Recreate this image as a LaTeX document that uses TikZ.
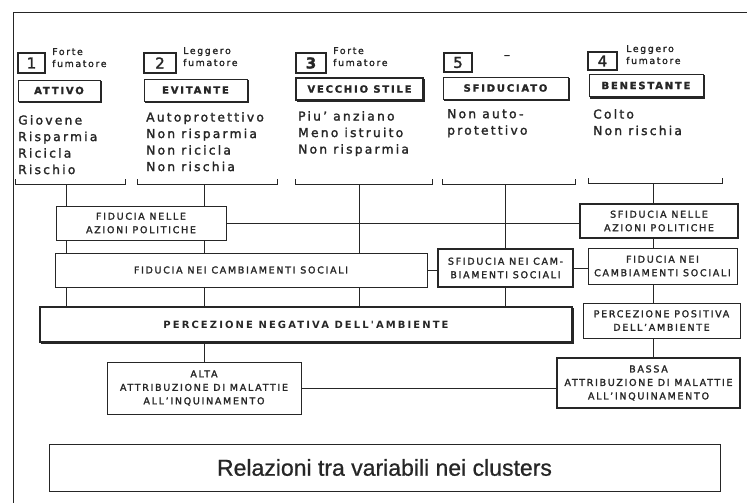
\documentclass[tikz,border=0pt]{standalone}
\usepackage{fontspec}
\setmainfont{DejaVu Sans}[LetterSpace=18, FakeBold=1.8]
\newfontfamily\pnfont{DejaVu Sans}[LetterSpace=21]
\newfontfamily\titlefont{Liberation Sans}[FakeBold=0.8]
\usetikzlibrary{backgrounds}
\definecolor{ink}{HTML}{262626}
\begin{document}
\begin{tikzpicture}[x=1pt,y=-1pt,
  every node/.style={text=ink, inner sep=0pt},
  nbox/.style={draw=ink, line width=1.2pt, fill=white, font=\fontsize{15}{15}\selectfont},
  small/.style={align=left, font=\fontsize{9.3}{12}\selectfont},
  lbox/.style={draw=ink, line width=0.9pt, fill=white, font=\bfseries\fontsize{10}{12}\selectfont,
    preaction={draw=ink, line width=1.6pt, transform canvas={xshift=1.6pt,yshift=-1.6pt}}},
  desc/.style={align=left, font=\fontsize{12.3}{16.5}\selectfont},
  mbox/.style={draw=ink, line width=1pt, fill=white, align=center, font=\fontsize{9.5}{13.5}\selectfont},
  conn/.style={draw=ink, line width=0.9pt},
  brk/.style={draw=ink, line width=0.9pt}
]
\useasboundingbox (0,0) rectangle (747,503);
% frame
\draw[ink, line width=0.9pt] (747,12) -- (13,12) -- (13,503);

% number boxes
\node[nbox, minimum width=27pt, minimum height=20pt] (n1) at (31.5,63) {1};
\node[nbox, minimum width=32pt, minimum height=20pt] (n2) at (160,63) {2};
\node[nbox, line width=2.2pt, minimum width=30pt, minimum height=20pt, font=\bfseries\fontsize{15}{15}\selectfont] (n3) at (311,63) {3};
\node[nbox, minimum width=28pt, minimum height=19pt] (n5) at (458,62.5) {5};
\node[nbox, minimum width=29pt, minimum height=18pt] (n4) at (602.5,61) {4};

% small labels
\node[small, anchor=north west] (s1) at (52,48) {Forte\\fumatore};
\node[small, anchor=north west] (s2) at (183,47) {Leggero\\fumatore};
\node[small, anchor=north west] (s3) at (333,47) {Forte\\fumatore};
\node[small, font=\fontsize{12}{12}\selectfont] (s5) at (507,57) {–};
\node[small, anchor=north west] (s4) at (626,45) {Leggero\\fumatore};

% label boxes
\node[lbox, minimum width=82pt, minimum height=21pt] (l1) at (59,90.5) {ATTIVO};
\node[lbox, minimum width=103pt, minimum height=22pt] (l2) at (195.5,90) {EVITANTE};
\node[lbox, minimum width=127pt, minimum height=22pt, line width=1.4pt] (l3) at (359.5,89) {VECCHIO STILE};
\node[lbox, minimum width=125pt, minimum height=22pt] (l5) at (505.5,88) {SFIDUCIATO};
\node[lbox, minimum width=114pt, minimum height=22pt] (l4) at (646,85.5) {BENESTANTE};

% descriptions
\node[desc, anchor=north west] (d1) at (18,115) {Giovene\\Risparmia\\Ricicla\\Rischio};
\node[desc, anchor=north west] (d2) at (146,112) {Autoprotettivo\\Non risparmia\\Non ricicla\\Non rischia};
\node[desc, anchor=north west] (d3) at (298,111) {Piu' anziano\\Meno istruito\\Non risparmia};
\node[desc, anchor=north west] (d5) at (447,109) {Non auto-\\protettivo};
\node[desc, anchor=north west] (d4) at (593,109) {Colto\\Non rischia};

% brackets
\coordinate (b1) at (66,184);
\coordinate (b2) at (204,184);
\coordinate (b3) at (359,184);
\coordinate (b5) at (505,184);
\coordinate (b4) at (653,183);
\draw[brk] (15,179) -- (15,184) -- (125,184) -- (125,179);
\draw[brk] (137,179) -- (137,184) -- (277,184) -- (277,179);
\draw[brk] (295,179) -- (295,184) -- (432,184) -- (432,179);
\draw[brk] (442,179) -- (442,184) -- (575,184) -- (575,179);
\draw[brk] (588,178) -- (588,183) -- (722,183) -- (722,178);

% middle boxes
\node[mbox, minimum width=170pt, minimum height=34pt] (fnelle) at (141,223) {FIDUCIA NELLE\\AZIONI POLITICHE};
\node[mbox, minimum width=372pt, minimum height=34pt] (fneiL) at (241,270) {FIDUCIA NEI CAMBIAMENTI SOCIALI};
\node[mbox, minimum width=532pt, minimum height=35pt, line width=1.4pt,
  preaction={draw=ink, line width=1.4pt, transform canvas={xshift=1.2pt,yshift=-1.2pt}},
  font=\pnfont\bfseries\fontsize{10}{12}\selectfont] (pneg) at (306,324.5) {PERCEZIONE NEGATIVA DELL'AMBIENTE};
\node[mbox, line width=2pt, minimum width=158pt, minimum height=34pt] (sfnelle) at (659,221) {SFIDUCIA NELLE\\AZIONI POLITICHE};
\node[mbox, line width=1.4pt, minimum width=135pt, minimum height=38pt] (sfnei) at (505.5,268) {SFIDUCIA NEI\enspace CAM-\\BIAMENTI SOCIALI};
\node[mbox, minimum width=149pt, minimum height=36pt] (fneiR) at (662.5,266) {FIDUCIA NEI\\CAMBIAMENTI SOCIALI};
\node[mbox, minimum width=157pt, minimum height=35pt] (ppos) at (661.5,320.5) {PERCEZIONE POSITIVA\\DELL'AMBIENTE};
\node[mbox, minimum width=194pt, minimum height=52pt] (alta) at (204,388) {ALTA\\ATTRIBUZIONE DI MALATTIE\\ALL'INQUINAMENTO};
\node[mbox, minimum width=183pt, minimum height=50pt, line width=1.3pt] (bassa) at (648.5,383) {BASSA\\ATTRIBUZIONE DI MALATTIE\\ALL'INQUINAMENTO};

% title
\node[draw=ink, line width=1pt, minimum width=671pt, minimum height=47pt,
  font=\titlefont\fontsize{23}{23}\selectfont] (title) at (384.5,467.5) {Relazioni tra variabili nei clusters};

% connectors
\begin{scope}[on background layer]
\draw[conn] (b1) -- (b1 |- pneg.north);
\draw[conn] (b2) -- (alta.north);
\draw[conn] (b3) -- (b3 |- pneg.north);
\draw[conn] (b5) -- (b5 |- pneg.north);
\draw[conn] (b4) -- (b4 |- bassa.north);
\end{scope}
\draw[conn] (fnelle.east) -- (fnelle.east -| sfnelle.west);
\draw[conn] (fneiL.east) -- (fneiL.east -| sfnei.west);
\draw[conn] (sfnei.east) -- (sfnei.east -| fneiR.west);
\draw[conn] (alta.east) -- (alta.east -| bassa.west);
\end{tikzpicture}
\end{document}
